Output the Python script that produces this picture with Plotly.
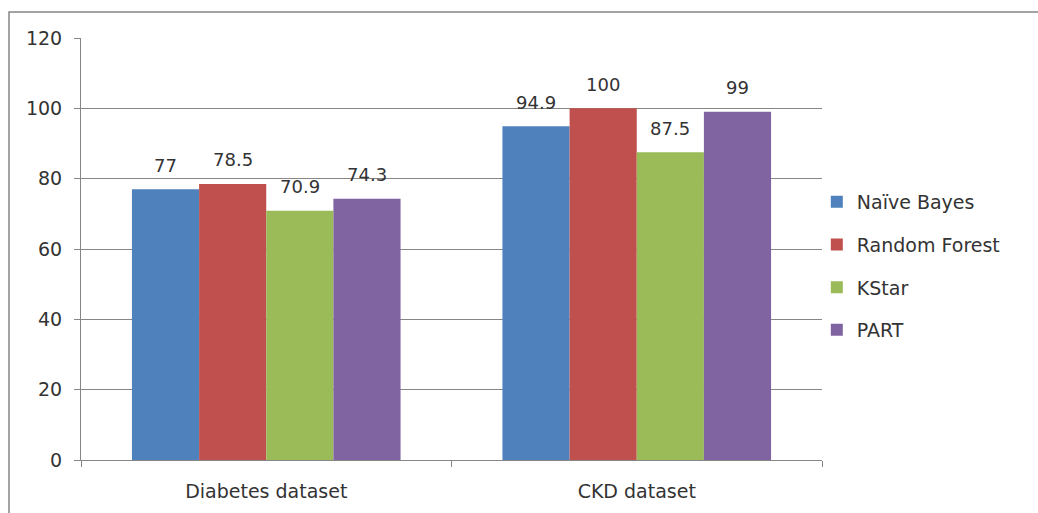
import plotly.graph_objects as go

# Classification accuracy (%) per dataset and classifier
datasets = ["Diabetes dataset", "CKD dataset"]
classifiers = ["Naïve Bayes", "Random Forest", "KStar", "PART"]
naive_bayes = [77, 94.9]
random_forest = [78.5, 100]
kstar = [70.9, 87.5]
part = [74.3, 99]
y_ticks = [0, 20, 40, 60, 80, 100, 120]

series = [naive_bayes, random_forest, kstar, part]
colors = ["#4F81BD", "#C0504D", "#9BBB59", "#8064A2"]

W, H = 1038, 513
L, R, T, B = 81, 216, 38, 53
BARGAP = 0.275
FONT = "DejaVu Sans"
TXT = "#333333"
AX = "#868686"

fig = go.Figure()
for i, (name, vals, col) in enumerate(zip(classifiers, series, colors)):
    fig.add_trace(go.Bar(
        x=datasets, y=vals, name=name, legendgroup=name,
        marker=dict(color=col, line=dict(width=0)),
    ))

# value labels centred over each bar of the group
n = len(series)
bw = (1 - BARGAP) / n
annotations = []
for i, vals in enumerate(series):
    off = (i - (n - 1) / 2) * bw
    for j, v in enumerate(vals):
        annotations.append(dict(
            x=j + off, y=v, xref="x", yref="y", text=f"{v:g}",
            showarrow=False, yanchor="middle", yshift=24,
            font=dict(family=FONT, size=18, color=TXT),
        ))

pw = W - L - R
ph = H - T - B
# outer chart frame
shapes = [dict(
    type="rect", xref="paper", yref="paper",
    x0=(9 - L) / pw, x1=(W + 5 - L) / pw,
    y0=-(H + 5 - (H - B)) / ph, y1=(H - B - 12) / ph,
    line=dict(color="#858585", width=1.5), fillcolor="rgba(0,0,0,0)", layer="below",
)]

fig.update_layout(
    width=W, height=H,
    margin=dict(l=L, r=R, t=T, b=B),
    paper_bgcolor="white", plot_bgcolor="white",
    barmode="group", bargap=BARGAP, bargroupgap=0,
    font=dict(family=FONT, size=18, color=TXT),
    showlegend=True,
    legend=dict(
        x=0.993, xanchor="left", y=0.46, yanchor="middle",
        traceorder="grouped", tracegroupgap=15,
        font=dict(family=FONT, size=19, color=TXT),
        itemwidth=30, bgcolor="rgba(0,0,0,0)",
    ),
    xaxis=dict(
        range=[-0.5, 1.5], showline=True, linecolor=AX, linewidth=1,
        ticks="outside", tickson="boundaries", ticklen=6, tickcolor=AX,
        ticklabelstandoff=14,
        showgrid=False, tickfont=dict(family=FONT, size=19, color=TXT),
    ),
    yaxis=dict(
        range=[0, 120], tickvals=y_ticks, showline=True, linecolor=AX, linewidth=1,
        ticks="outside", ticklen=6, tickcolor=AX, ticklabelstandoff=8,
        showgrid=True, gridcolor=AX, gridwidth=1, zeroline=False,
        tickfont=dict(family=FONT, size=19, color=TXT),
    ),
    annotations=annotations,
    shapes=shapes,
)

fig.write_html("out.html")
